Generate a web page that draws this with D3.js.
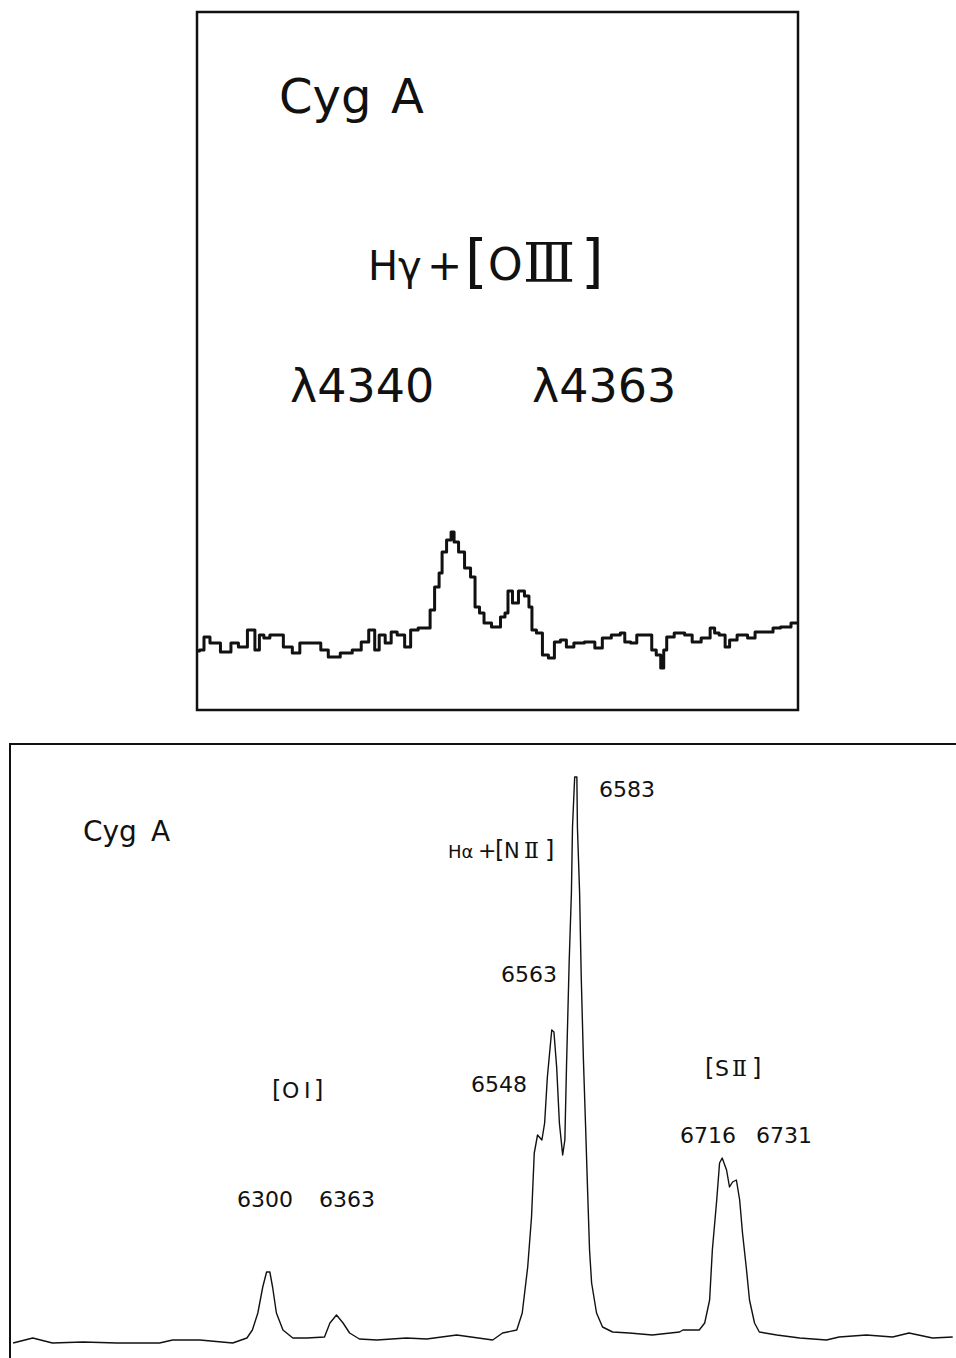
<!DOCTYPE html>
<html>
  <head>
    <meta charset="UTF-8">
    <script src="https://d3js.org/d3.v7.min.js"></script>
    <title>Cyg A spectra</title>
    <style>
      body { margin: 0; background: #fff; }
      text { font-family: "DejaVu Sans", sans-serif; fill: #111; }
      .roman { font-family: "DejaVu Serif", "Liberation Serif", serif; }
    </style>
  </head>

  <body>
    <svg id="f1" width="956" height="1358"></svg>
    <script>

    // top panel: Hgamma + [OIII] scan, counts per channel
    var topChannel = [0,1,3,5,10,12,15,18,20,21,23,25,27,30,33,35,40,42,45,50,53,56,58,60,61,
      64,65,68,70,72,75,77,78,80,81,82,84,85,86,88,90,92,93,95,96,100,102,103,104,106,
      108,110,111,112,114,116,118,120,122,124,127,131,134,136,140,142,143,146,147,151,
      152,154,155,156,157,161,164,166,170,172,173,175,177,178,182,185,187,191,193,196,200];
    var topCounts = [24.5,25,31.5,28.5,24,28.5,26.5,35,25,32.5,31,32.5,32.5,26.5,23.5,
      28.5,28.5,25,21.5,23.5,25,29,35,25,32.5,28.5,34,32.5,26.5,35,36,36,45,56.5,63.5,
      74,80,84,79,74,66,61.5,46.5,43.5,38.5,36.5,41.5,43.5,54.5,48.5,54.5,52,46.5,35,33.5,
      22.5,21,29,30,26.5,28.5,29,26,31,32.5,33.5,29,28.5,32.5,32.5,25,22.5,16,25,31.5,
      33.5,32.5,29,31,36,33.5,32.5,26.5,30,32.5,31,34,34,36,36.5,38.5];

    // bottom panel: red spectrum, wavelength (A) vs relative flux
    var redWave = [6067,6085,6103,6131,6162,6201,6213,6238,6268,6281,6286,6291,6295.5,6299,6302,
      6304.5,6308,6314,6323,6336,6352,6357,6363,6369,6375,6384,6400,6427,6445.5,6473,
      6506,6515,6528,6533,6538,6541.5,6544,6547,6551,6553.5,6556,6560,6562,6564.5,6567,
      6570,6572,6573.5,6576,6578,6579,6581,6583,6583.5,6585.5,6587,6589,6591,6592.8,6594.6,
      6596.5,6601,6606.5,6615.7,6631,6652,6677,6680,6695,6700,6704.5,6707,6711,6713.6,6716,
      6720,6722.7,6725.5,6729,6732,6734.6,6738,6741,6745.6,6750,6766,6787,6811.5,6823,6848,
      6872,6887,6908.5,6927];
    var redFlux = [-0.2,0.8,-0.2,0,-0.2,-0.2,0.4,0.4,-0.2,0.8,2.4,5.8,11,14,14,
      11,5.8,2.4,0.8,0.8,1,3.8,5.4,3.8,1.8,0.6,0.4,0.8,0.6,1.4,
      0.4,1.8,2.4,5.8,15,25,37.8,41.4,40.4,43.8,53,62.4,62,55,43.8,
      37.4,40.4,55,76.4,89.8,103,113,113,103,89.8,73,56.4,43,30.4,18.4,
      11.8,5.8,3,2,1.8,1.4,2,2.4,2.4,3.8,8.4,18.4,28.4,35.8,36.8,
      34.4,31,32,32.4,28.4,21.8,15,8.4,3.8,2,1.4,0.8,0.4,1,1.4,
      1,1.8,0.8,1];

    var svg = d3.select("#f1");

    // ---- top panel ----
    var topBox = {x0: 197, x1: 798, y0: 12, y1: 710};
    svg.append("rect")
      .attr("x", topBox.x0).attr("y", topBox.y0)
      .attr("width", topBox.x1 - topBox.x0).attr("height", topBox.y1 - topBox.y0)
      .attr("fill", "none").attr("stroke", "#111").attr("stroke-width", 2.5);

    var xTop = d3.scaleLinear().domain([0, 200]).range([198, 797]);
    var yTop = d3.scaleLinear().domain([0, 100]).range([700, 500]);

    var topLine = d3.line()
      .x(function(d, i){ return xTop(topChannel[i]); })
      .y(function(d){ return yTop(d); })
      .curve(d3.curveStep);

    svg.append("path")
      .datum(topCounts)
      .attr("d", topLine)
      .attr("fill", "none")
      .attr("stroke", "#111")
      .attr("stroke-width", 3)
      .attr("stroke-linejoin", "round");

    svg.append("text").attr("x", 279).attr("y", 113).attr("font-size", 48).text("Cyg");
    svg.append("text").attr("x", 391).attr("y", 113).attr("font-size", 48).text("A");

    var t = svg.append("text").attr("y", 280);
    t.append("tspan").attr("x", 368).attr("font-size", 40).text("H");
    t.append("tspan").attr("x", 398).attr("font-size", 40).text("γ");
    t.append("tspan").attr("x", 427).attr("font-size", 42).text("+");
    t.append("tspan").attr("x", 465).attr("font-size", 58).attr("dy", 2).text("[");
    t.append("tspan").attr("x", 488).attr("font-size", 44).attr("dy", -2).text("O");
    t.append("tspan").attr("class", "roman").attr("x", 523).attr("font-size", 54).attr("dy", 2).text("Ⅲ");
    t.append("tspan").attr("x", 581).attr("font-size", 58).text("]");

    svg.append("text").attr("x", 290).attr("y", 402).attr("font-size", 46).text("λ4340");
    svg.append("text").attr("x", 532).attr("y", 402).attr("font-size", 46).text("λ4363");

    // ---- bottom panel ----
    svg.append("path")
      .attr("d", "M10,1358 V744 H956")
      .attr("fill", "none").attr("stroke", "#111").attr("stroke-width", 2);

    var xRed = d3.scaleLinear().domain([6066, 6930]).range([12, 956]);
    var yRed = d3.scaleLinear().domain([0, 120]).range([1342, 742]);

    var redLine = d3.line()
      .x(function(d, i){ return xRed(redWave[i]); })
      .y(function(d){ return yRed(d); });

    svg.append("path")
      .datum(redFlux)
      .attr("d", redLine)
      .attr("fill", "none")
      .attr("stroke", "#111")
      .attr("stroke-width", 1.4)
      .attr("stroke-linejoin", "round");

    svg.append("text").attr("x", 83).attr("y", 841).attr("font-size", 28).text("Cyg");
    svg.append("text").attr("x", 151).attr("y", 841).attr("font-size", 28).text("A");

    var lineLabels = ["6583", "6563", "6548", "6716", "6731", "6300", "6363"];
    var labelPos = [[599, 797], [501, 982], [471, 1092], [680, 1143], [756, 1143], [237, 1207], [319, 1207]];
    svg.selectAll(".lbl")
      .data(lineLabels)
      .enter()
      .append("text")
      .attr("class", "lbl")
      .attr("x", function(d, i){ return labelPos[i][0]; })
      .attr("y", function(d, i){ return labelPos[i][1]; })
      .attr("font-size", 22)
      .text(function(d){ return d; });

    var ha = svg.append("text").attr("y", 858);
    ha.append("tspan").attr("x", 448).attr("font-size", 18).text("Hα");
    ha.append("tspan").attr("x", 478).attr("font-size", 22).text("+");
    ha.append("tspan").attr("x", 495).attr("font-size", 24).text("[");
    ha.append("tspan").attr("x", 504).attr("font-size", 21).text("N");
    ha.append("tspan").attr("class", "roman").attr("x", 524).attr("font-size", 22).text("Ⅱ");
    ha.append("tspan").attr("x", 545).attr("font-size", 24).text("]");

    var s2 = svg.append("text").attr("y", 1076);
    s2.append("tspan").attr("x", 705).attr("font-size", 24).text("[");
    s2.append("tspan").attr("x", 715).attr("font-size", 22).text("S");
    s2.append("tspan").attr("class", "roman").attr("x", 732).attr("font-size", 22).text("Ⅱ");
    s2.append("tspan").attr("x", 752).attr("font-size", 24).text("]");

    var o1 = svg.append("text").attr("y", 1098);
    o1.append("tspan").attr("x", 272).attr("font-size", 24).text("[");
    o1.append("tspan").attr("x", 282).attr("font-size", 22).text("O");
    o1.append("tspan").attr("x", 304).attr("font-size", 22).text("I");
    o1.append("tspan").attr("x", 314).attr("font-size", 24).text("]");

    </script>
  </body>
</html>
